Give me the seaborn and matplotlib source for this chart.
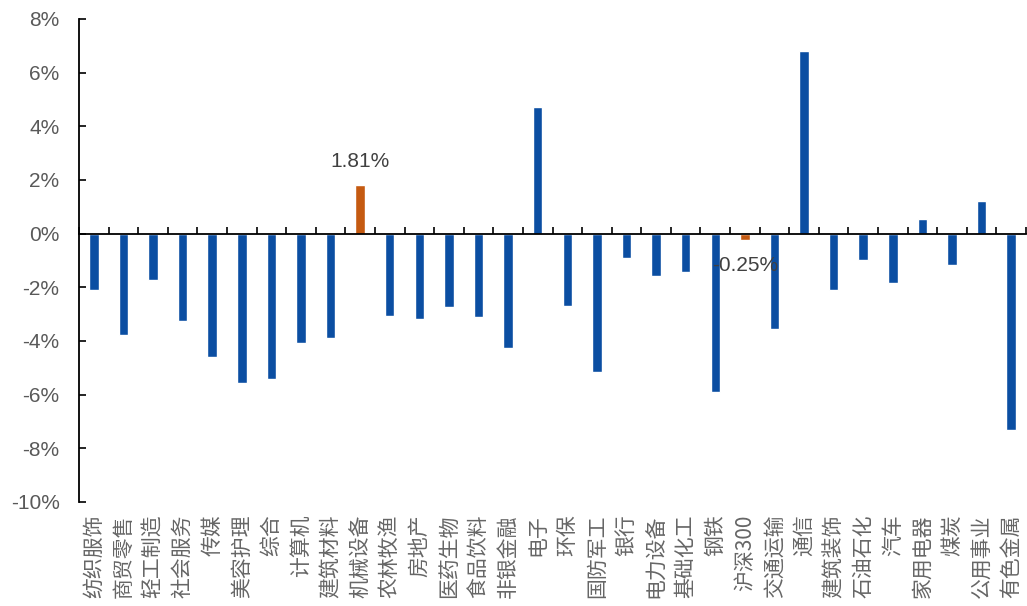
import matplotlib
matplotlib.use("Agg")
import matplotlib.pyplot as plt
import matplotlib.ticker as mticker
import seaborn as sns
import numpy as np

categories = ["纺织服饰", "商贸零售", "轻工制造", "社会服务", "传媒", "美容护理", "综合", "计算机",
              "建筑材料", "机械设备", "农林牧渔", "房地产", "医药生物", "食品饮料", "非银金融", "电子",
              "环保", "国防军工", "银行", "电力设备", "基础化工", "钢铁", "沪深300", "交通运输",
              "通信", "建筑装饰", "石油石化", "汽车", "家用电器", "煤炭", "公用事业", "有色金属"]
values = [-2.10, -3.78, -1.73, -3.25, -4.60, -5.57, -5.42, -4.07,
          -3.89, 1.81, -3.07, -3.18, -2.73, -3.10, -4.26, 4.72,
          -2.69, -5.15, -0.90, -1.58, -1.43, -5.90, -0.25, -3.55,
          6.81, -2.10, -0.98, -1.84, 0.55, -1.17, 1.22, -7.32]
highlight = ["机械设备", "沪深300"]
y_ticks = [-10, -8, -6, -4, -2, 0, 2, 4, 6, 8]

BLUE = "#0B4EA2"
ORANGE = "#C55A11"
GRAY = "#595959"

sns.set_style("white")
plt.rcParams["font.family"] = ["Liberation Sans", "Noto Sans CJK SC", "DejaVu Sans"]

fig = plt.figure(figsize=(10.27, 6.06), dpi=100)
ax = fig.add_axes([79 / 1027, 1 - 502 / 606, 947 / 1027, 483 / 606])

palette = {c: (ORANGE if c in highlight else BLUE) for c in categories}
sns.barplot(x=categories, y=values, hue=categories, palette=palette, legend=False,
            width=0.32, saturation=1, ax=ax, zorder=3)

ax.set_xlim(-0.5, len(categories) - 0.5)
ax.set_ylim(y_ticks[0], y_ticks[-1])
ax.set_yticks(y_ticks)
ax.yaxis.set_major_formatter(mticker.FuncFormatter(lambda v, p: f"{v:.0f}%"))
ax.tick_params(axis="y", direction="in", length=5, width=1.2, color="black",
               labelsize=15, labelcolor=GRAY, pad=14, left=True)

for s in ["top", "right", "bottom"]:
    ax.spines[s].set_visible(False)
ax.spines["left"].set_color("black")
ax.spines["left"].set_linewidth(1.3)

# category labels at the bottom
ax.set_xticks(range(len(categories)))
ax.set_xticklabels(categories, rotation=90, fontsize=15, color="#666666",
                   family=["Noto Sans CJK SC", "DejaVu Sans"], va="top", ha="center")
ax.tick_params(axis="x", length=0, pad=9)
ax.set_xlabel("")
ax.set_ylabel("")

# zero axis with boundary ticks pointing up
zero_pos = (0 - y_ticks[0]) / (y_ticks[-1] - y_ticks[0])
sec = ax.secondary_xaxis(zero_pos)
sec.xaxis.set_ticks_position("top")
sec.set_xticks(np.arange(len(categories) + 1) - 0.5)
sec.set_xticklabels([])
sec.tick_params(axis="x", direction="out", length=5, width=1.2, color="black",
                labelbottom=False, labeltop=False, top=True, bottom=False)
sec.set_zorder(4)
for s in sec.spines.values():
    s.set_visible(False)
sec.spines["bottom"].set_visible(True)
sec.spines["bottom"].set_color("black")
sec.spines["bottom"].set_linewidth(1.3)

# annotations
for c in highlight:
    i = categories.index(c)
    v = values[i]
    if v >= 0:
        ax.annotate(f"{v:.2f}%", (i, v), xytext=(0, 10), textcoords="offset points",
                    ha="center", va="bottom", fontsize=15, color="#404040", zorder=4)
    else:
        ax.annotate(f"{v:.2f}%", (i, v), xytext=(0, -18), textcoords="offset points",
                    ha="center", va="center", fontsize=15, color="#404040", zorder=4)

fig.savefig("out.png", dpi=100)
